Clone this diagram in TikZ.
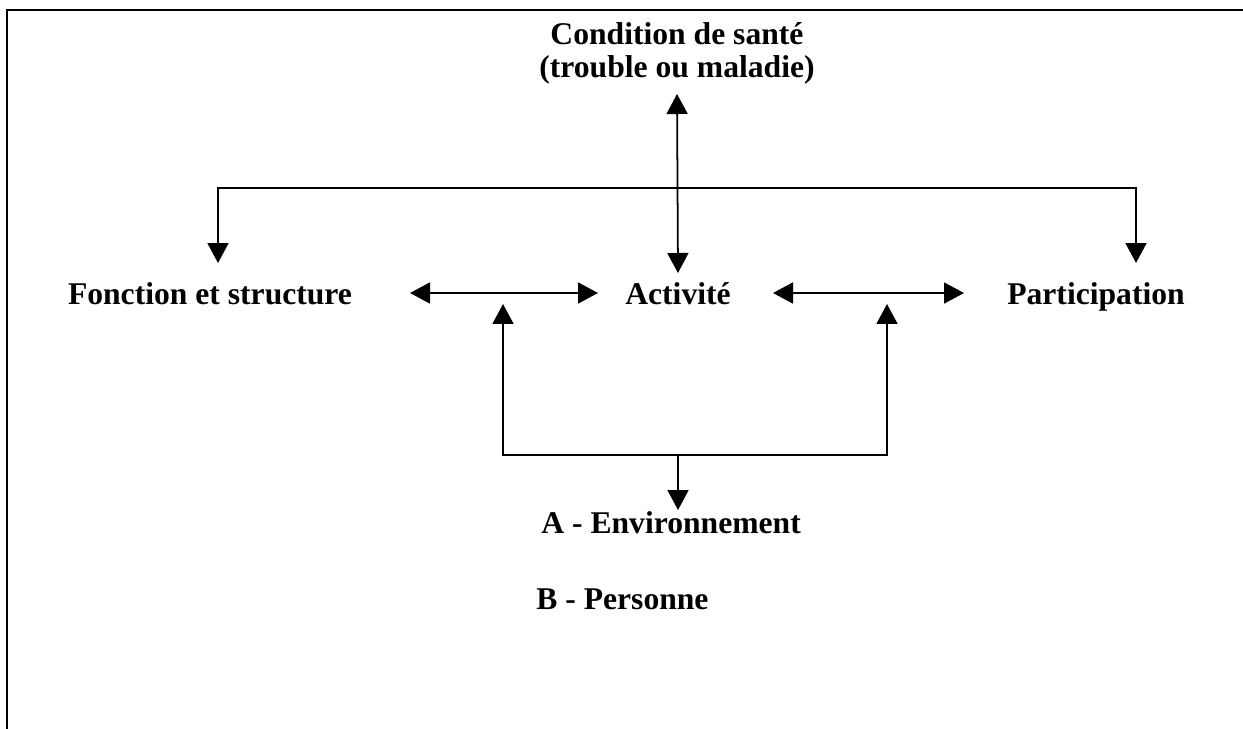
\documentclass[tikz,border=0pt]{standalone}
\usepackage{fontspec}
\setmainfont{Liberation Serif}
\usetikzlibrary{arrows.meta}

\tikzset{
  link/.style={line width=1pt},
  tip/.style={-{Triangle[length=0.4cm,width=0.42cm]}},
  twotips/.style={{Triangle[length=0.4cm,width=0.42cm]}-{Triangle[length=0.4cm,width=0.42cm]}}
}

\begin{document}
\begin{tikzpicture}[x=0.02cm,y=-0.02cm]

      \useasboundingbox (0,0) rectangle (1243,729);
      \draw[link] (7,729) -- (7,10) -- (1243,10);

      \begin{scope}[every node/.style={inner sep=0pt,font=\fontsize{18}{19}\selectfont\bfseries}]
        \node[anchor=north,align=center] (cond) at (677,22) {Condition de santé\\(trouble ou maladie)};
        \node[anchor=base] (fonc) at (210,304) {Fonction et structure};
        \node[anchor=base] (act)  at (678,304) {Activité};
        \node[anchor=base] (part) at (1096,304) {Participation};
        \node[anchor=base west] (env)  at (541,533) {A - Environnement};
        \node[anchor=base west] (pers) at (536,609) {B - Personne};
      \end{scope}

      \coordinate (c1) at (cond.south |- 0,94);
      \coordinate (c2) at (act.north |- 0,273);
      \coordinate (l1) at (218,263);
      \coordinate (l2) at (218,188);
      \coordinate (r1) at (1136,263);
      \coordinate (r2) at (1136,188);
      \coordinate (fa) at (410,293);
      \coordinate (fb) at (598,293);
      \coordinate (pa) at (773,293);
      \coordinate (pb) at (964,293);
      \coordinate (u1) at (503,304);
      \coordinate (u2) at (503,455);
      \coordinate (v1) at (887,304);
      \coordinate (v2) at (887,455);
      \coordinate (m1) at (678,455);
      \coordinate (m2) at (678,510);

      \begin{scope}[link]
        \draw[twotips] (c1) -- (c2);
        \draw[twotips] (l1) -- (l2) -- (r2) -- (r1);
        \draw[twotips] (fa) -- (fb);
        \draw[twotips] (pa) -- (pb);
        \draw[twotips] (u1) -- (u2) -- (v2) -- (v1);
        \draw[tip] (m1) -- (m2);
      \end{scope}

    \end{tikzpicture}
\end{document}
